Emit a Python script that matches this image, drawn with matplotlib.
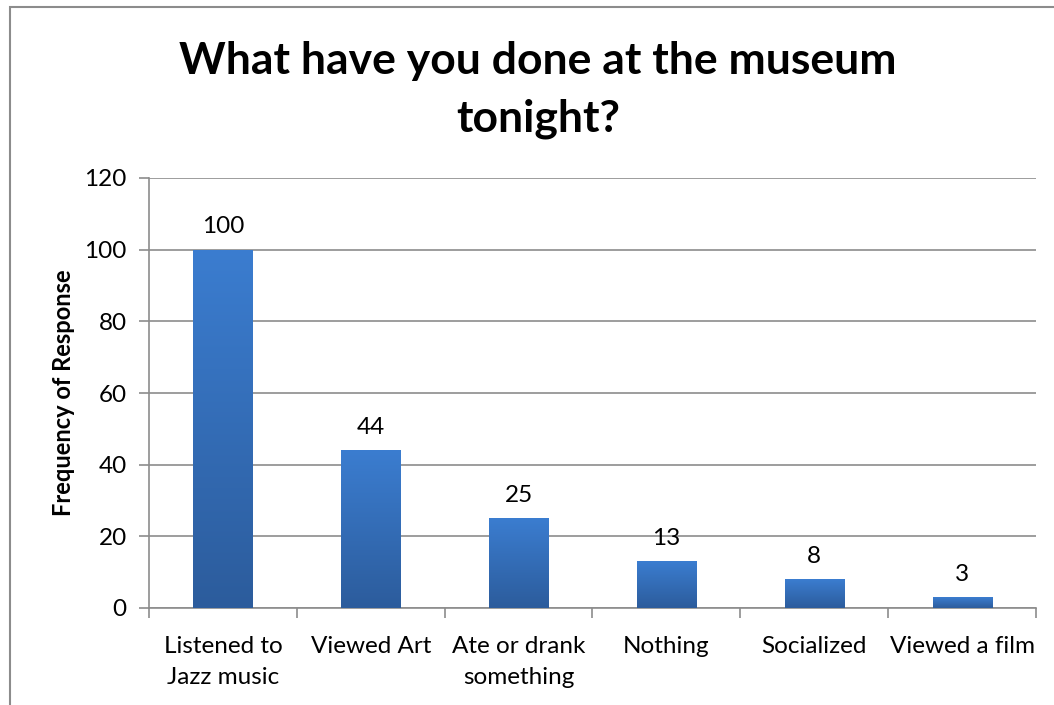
import matplotlib
matplotlib.use("Agg")
import matplotlib.pyplot as plt
import numpy as np
from matplotlib.patches import Rectangle
from matplotlib.colors import LinearSegmentedColormap

categories = ["Listened to\nJazz music", "Viewed Art", "Ate or drank\nsomething",
              "Nothing", "Socialized", "Viewed a film"]
values = [100, 44, 25, 13, 8, 3]
yticks = [0, 20, 40, 60, 80, 100, 120]
title = "What have you done at the museum\ntonight?"
ylabel = "Frequency of Response"

plt.rcParams['font.family'] = ['Lato', 'DejaVu Sans']

fig = plt.figure(figsize=(10.54, 7.05), dpi=100)
fig.patch.set_facecolor("white")
# outer chart border
fig.add_artist(Rectangle((10/1054, -0.05), 1.2, 1 - 7/705 + 0.05,
                         transform=fig.transFigure, fill=False,
                         edgecolor="#8c8c8c", lw=1.5))

ax = fig.add_axes([149/1054, 1 - 608/705, (1036 - 149)/1054, (608 - 178)/705])
x = np.arange(len(categories))
bars = ax.bar(x, values, width=0.4, color="#3a78c6", zorder=3)

cmap = LinearSegmentedColormap.from_list("g", ["#2c5c9c", "#3b7dd0"])
grad = np.linspace(0, 1, 256).reshape(-1, 1)
for b in bars:
    bx, by = b.get_x(), b.get_y()
    w, h = b.get_width(), b.get_height()
    im = ax.imshow(grad, extent=[bx, bx + w, by, by + h], origin="lower",
                   cmap=cmap, aspect="auto", zorder=3.5)
    im.set_clip_path(b)

for xi, v in zip(x, values):
    ax.annotate(str(v), (xi, v), xytext=(0, 9), textcoords="offset points",
                ha="center", va="bottom", fontsize=17.5)

ax.set_xlim(-0.5, len(categories) - 0.5)
ax.set_ylim(0, 120)
ax.set_yticks(yticks)
ax.tick_params(axis="y", labelsize=17.5, length=7, width=1.2, color="#8c8c8c", pad=9)
ax.set_xticks(x)
ax.set_xticklabels(categories, fontsize=17.5, linespacing=1.6)
ax.tick_params(axis="x", which="major", length=0, pad=20)
ax.set_xticks(np.arange(-0.5, len(categories)), minor=True)
ax.tick_params(axis="x", which="minor", length=7, width=1.2, color="#8c8c8c")
ax.grid(axis="y", color="#8c8c8c", lw=1.2, zorder=0)
ax.set_axisbelow(True)
for s in ["top", "right"]:
    ax.spines[s].set_visible(False)
for s in ["left", "bottom"]:
    ax.spines[s].set_color("#8c8c8c")
    ax.spines[s].set_linewidth(1.2)

ax.set_ylabel(ylabel, fontsize=17, fontweight="bold", labelpad=7)
fig.text(538/1054, 1 - 90/705, title, ha="center", va="center",
         fontsize=32, fontweight="bold", linespacing=1.55)

fig.savefig("out.png", dpi=100)
